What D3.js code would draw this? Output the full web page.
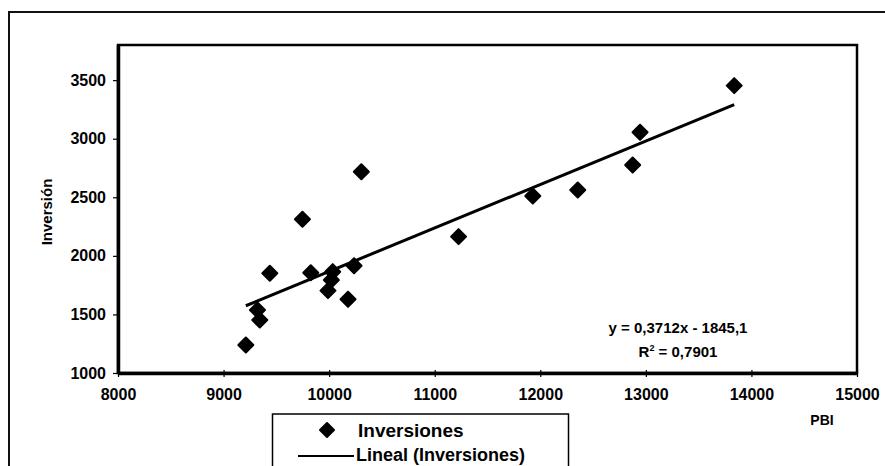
<!DOCTYPE html>
<html>
<head>
<meta charset="utf-8">
<script src="https://cdn.jsdelivr.net/npm/d3@7"></script>
<style>
  html, body { margin: 0; padding: 0; background: #fff; }
  svg { display: block; font-family: "Liberation Sans", Arial, sans-serif; }
</style>
</head>
<body>
<svg id="chart" width="885" height="466"></svg>
<script>
// PBI vs. Inversión observations
const pbi       = [9211, 9321, 9343, 9438, 9747, 9826, 10034, 10021, 9989, 10179, 10236, 10305, 11226, 11929, 12355, 12875, 12945, 13837];
const inversion = [1239, 1538, 1452, 1851, 2312, 1856, 1865, 1794, 1703, 1629, 1916, 2718, 2164, 2511, 2562, 2776, 3055, 3453];

// Linear trend coefficients (as printed on the chart)
const slope = 0.3712;
const intercept = -1845.1;
const r2Label = "0,7901";

const xTicks = [8000, 9000, 10000, 11000, 12000, 13000, 14000, 15000];
const yTicks = [1000, 1500, 2000, 2500, 3000, 3500];

const svg = d3.select("#chart");

const plot = { left: 118, top: 45, right: 857, bottom: 373 };
const x = d3.scaleLinear().domain([8000, 15000]).range([plot.left, plot.right]);
const y = d3.scaleLinear().domain([1000, 3800]).range([plot.bottom, plot.top]);

// Outer chart frame
svg.append("rect")
  .attr("x", 9).attr("y", 12).attr("width", 900).attr("height", 500)
  .attr("fill", "none").attr("stroke", "#111").attr("stroke-width", 2);

// Plot area frame
svg.append("rect")
  .attr("x", plot.left).attr("y", plot.top)
  .attr("width", plot.right - plot.left).attr("height", plot.bottom - plot.top)
  .attr("fill", "#fff").attr("stroke", "#000").attr("stroke-width", 2.5);

// Axes
const xAxis = d3.axisBottom(x).tickValues(xTicks).tickSize(0).tickPadding(16).tickFormat(d3.format("d"));
const yAxis = d3.axisLeft(y).tickValues(yTicks).tickSize(0).tickPadding(12).tickFormat(d3.format("d"));

const gx = svg.append("g").attr("transform", `translate(0,${plot.bottom})`).call(xAxis);
const gy = svg.append("g").attr("transform", `translate(${plot.left},0)`).call(yAxis);

[gx, gy].forEach(g => {
  g.select(".domain").attr("stroke", "#000").attr("stroke-width", 3.5);
  g.selectAll("text").attr("fill", "#000").attr("font-size", 16).attr("font-weight", "bold")
    .attr("font-family", "'Liberation Sans', Arial, sans-serif");
});

// Cross tick marks
gx.selectAll(".tick").append("line").attr("y1", -3).attr("y2", 4).attr("stroke", "#000").attr("stroke-width", 1.2);
gy.selectAll(".tick").append("line").attr("x1", -5).attr("x2", 2).attr("stroke", "#000").attr("stroke-width", 1.2);

// Axis titles
svg.append("text")
  .attr("transform", `translate(52,212) rotate(-90)`)
  .attr("text-anchor", "middle")
  .attr("font-size", 15).attr("font-weight", "bold")
  .text("Inversión");

svg.append("text")
  .attr("x", 822).attr("y", 425)
  .attr("text-anchor", "middle")
  .attr("font-size", 14).attr("font-weight", "bold")
  .text("PBI");

// Trend line over the observed PBI range
const xExt = d3.extent(pbi);
const trend = xExt.map(v => [v, slope * v + intercept]);
svg.append("path")
  .datum(trend)
  .attr("d", d3.line().x(d => x(d[0])).y(d => y(d[1])))
  .attr("stroke", "#000").attr("stroke-width", 3).attr("fill", "none");

// Diamond markers
const diamond = (cx, cy, r) => `M${cx},${cy - r}L${cx + r},${cy}L${cx},${cy + r}L${cx - r},${cy}Z`;
svg.append("g").selectAll("path")
  .data(pbi.map((v, i) => [v, inversion[i]]))
  .join("path")
  .attr("d", d => diamond(x(d[0]), y(d[1]), 7.5))
  .attr("fill", "#000").attr("stroke", "#000").attr("stroke-width", 2).attr("stroke-linejoin", "round");

// Equation and R² label
const eq = svg.append("text").attr("text-anchor", "middle").attr("font-size", 15).attr("font-weight", "bold");
eq.append("tspan").attr("x", 678).attr("y", 333)
  .text(`y = ${String(slope).replace(".", ",")}x - ${String(Math.abs(intercept)).replace(".", ",")}`);
const r2 = svg.append("text").attr("x", 678).attr("y", 357).attr("text-anchor", "middle")
  .attr("font-size", 15).attr("font-weight", "bold");
r2.append("tspan").text("R");
r2.append("tspan").attr("dy", -6).attr("font-size", 9).text("2");
r2.append("tspan").attr("dy", 6).text(` = ${r2Label}`);

// Legend
const lg = svg.append("g");
lg.append("rect").attr("x", 272.5).attr("y", 414).attr("width", 296).attr("height", 80)
  .attr("fill", "#fff").attr("stroke", "#000").attr("stroke-width", 1.5);
lg.append("path").attr("d", diamond(327, 430, 7)).attr("fill", "#000")
  .attr("stroke", "#000").attr("stroke-width", 2).attr("stroke-linejoin", "round");
lg.append("text").attr("x", 358).attr("y", 437).attr("font-size", 19).attr("font-weight", "bold").text("Inversiones");
lg.append("line").attr("x1", 298).attr("x2", 354).attr("y1", 456).attr("y2", 456)
  .attr("stroke", "#000").attr("stroke-width", 2);
lg.append("text").attr("x", 356).attr("y", 461).attr("font-size", 18).attr("font-weight", "bold").text("Lineal (Inversiones)");
</script>
</body>
</html>
